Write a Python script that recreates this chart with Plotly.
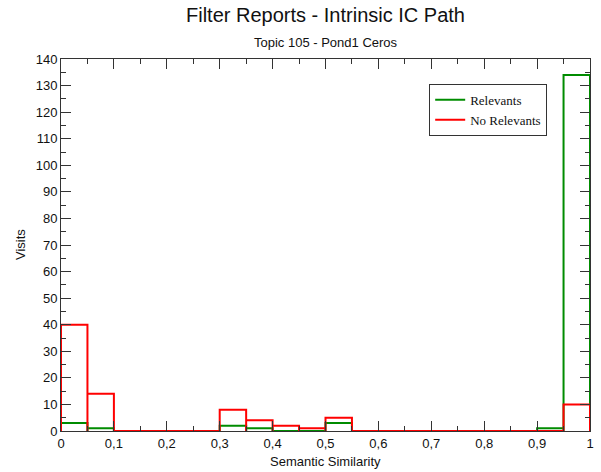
import plotly.graph_objects as go

bin_edges = [round(i * 0.05, 2) for i in range(21)]
relevants = [3, 1, 0, 0, 0, 0, 2, 1, 0, 0, 3, 0, 0, 0, 0, 0, 0, 0, 1, 134]
no_relevants = [40, 14, 0, 0, 0, 0, 8, 4, 2, 1, 5, 0, 0, 0, 0, 0, 0, 0, 0, 10]
x_tickvals = [0, 0.1, 0.2, 0.3, 0.4, 0.5, 0.6, 0.7, 0.8, 0.9, 1]
x_ticktext = ["0", "0,1", "0,2", "0,3", "0,4", "0,5", "0,6", "0,7", "0,8", "0,9", "1"]
y_tickvals = list(range(0, 141, 10))


def outline(counts):
    xs, ys = [], []
    for i, h in enumerate(counts):
        x0, x1 = bin_edges[i], bin_edges[i + 1]
        xs += [x0, x0, x1, x1]
        ys += [0, h, h, 0]
    return xs, ys


fig = go.Figure()
gx, gy = outline(relevants)
rx, ry = outline(no_relevants)
fig.add_trace(go.Scatter(x=gx, y=gy, mode="lines", name="Relevants",
                         line=dict(color="#008c00", width=2)))
fig.add_trace(go.Scatter(x=rx, y=ry, mode="lines", name="No Relevants",
                         line=dict(color="#ff0000", width=2)))

axis_common = dict(showline=True, linecolor="#333", linewidth=1, mirror="ticks",
                   ticks="inside", ticklen=10, tickcolor="#333", showgrid=False,
                   zeroline=False, automargin=False,
                   tickfont=dict(family="Liberation Sans, Arial", size=13, color="#111"))

fig.update_xaxes(range=[0, 1], tickvals=x_tickvals, ticktext=x_ticktext,
                 minor=dict(ticks="inside", ticklen=5, dtick=0.05, tickcolor="#333", showgrid=False),
                 **axis_common)
fig.update_yaxes(range=[0, 140], tickvals=y_tickvals,
                 minor=dict(ticks="inside", ticklen=5, dtick=5, tickcolor="#333", showgrid=False),
                 **axis_common)

font_sans = "Liberation Sans, Arial"
fig.add_annotation(text="Filter Reports - Intrinsic IC Path", xref="paper", yref="paper",
                   x=0.5, y=1, yshift=44, showarrow=False, yanchor="middle",
                   font=dict(family=font_sans, size=20, color="#111"))
fig.add_annotation(text="Topic 105 - Pond1 Ceros", xref="paper", yref="paper",
                   x=0.5, y=1, yshift=17, showarrow=False, yanchor="middle",
                   font=dict(family=font_sans, size=13, color="#111"))
fig.add_annotation(text="Semantic Similarity", xref="paper", yref="paper",
                   x=0.5, y=0, yshift=-30, showarrow=False, yanchor="middle",
                   font=dict(family=font_sans, size=13, color="#111"))
fig.add_annotation(text="Visits", xref="paper", yref="paper",
                   x=0, y=0.5, xshift=-41, showarrow=False, textangle=-90,
                   xanchor="center", yanchor="middle",
                   font=dict(family=font_sans, size=13, color="#111"))

fig.update_layout(
    width=601, height=472,
    margin=dict(l=61, r=11, t=59, b=41),
    plot_bgcolor="white", paper_bgcolor="white",
    showlegend=True,
    legend=dict(x=0.696, y=0.933, xanchor="left", yanchor="top",
                bgcolor="white", bordercolor="#333", borderwidth=1,
                font=dict(family="Liberation Serif, Times New Roman", size=13, color="#111"),
                tracegroupgap=0, itemwidth=30),
)

fig.write_html("out.html")
